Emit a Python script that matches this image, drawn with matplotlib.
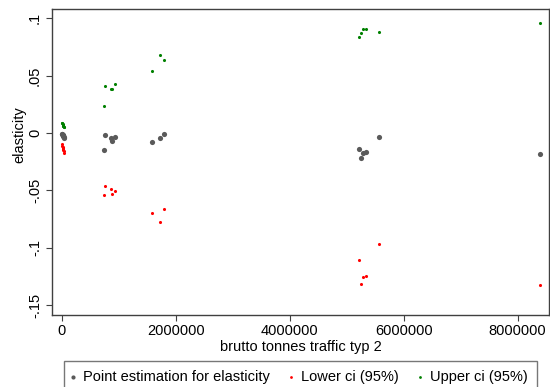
import matplotlib
matplotlib.use("Agg")
import matplotlib.pyplot as plt
import numpy as np

plt.rcParams['font.family'] = ['Liberation Sans', 'DejaVu Sans']

# traffic (brutto tonnes) and elasticity estimates
traffic = [8000, 12000, 15000, 20000, 25000, 30000, 35000, 40000,
           747000, 760000, 860000, 888000, 935000,
           1589000, 1719000, 1795000,
           5211000, 5256000, 5286000, 5344000, 5572000,
           8386000]
point_est = [-0.0005, -0.001, -0.0015, -0.002, -0.0025, -0.003, -0.0035, -0.004,
             -0.0152, -0.0018, -0.0047, -0.0067, -0.0035,
             -0.0079, -0.0041, -0.0006,
             -0.0140, -0.0218, -0.0175, -0.0166, -0.0035,
             -0.0181]
lower_ci = [-0.0095, -0.011, -0.012, -0.013, -0.014, -0.015, -0.016, -0.017,
            -0.0544, -0.0460, -0.0489, -0.0527, -0.0506,
            -0.0695, -0.0771, -0.0658,
            -0.1108, -0.1312, -0.1254, -0.1245, -0.0963,
            -0.1326]
upper_ci = [0.009, 0.0085, 0.008, 0.007, 0.0065, 0.006, 0.0055, 0.005,
            0.0232, 0.0413, 0.0384, 0.0387, 0.0424,
            0.0541, 0.0677, 0.0640,
            0.0832, 0.0873, 0.0904, 0.0904, 0.0881,
            0.0960]

xticks = [0, 2000000, 4000000, 6000000, 8000000]
yticks = [0.1, 0.05, 0, -0.05, -0.1, -0.15]
ytick_labels = ['.1', '.05', '0', '-.05', '-.1', '-.15']

fs = 10.5
edge = '#404040'

fig = plt.figure(figsize=(5.5, 3.87), dpi=100)
ax = fig.add_axes([52/550, 1-315/387, 497/550, 306/387])

ax.scatter(traffic, point_est, s=14, color='#5a5a5a', linewidths=0,
           label='Point estimation for elasticity', zorder=3)
ax.scatter(traffic, lower_ci, s=5, color='red', linewidths=0,
           label='Lower ci (95%)', zorder=3)
ax.scatter(traffic, upper_ci, s=5, color='green', linewidths=0,
           label='Upper ci (95%)', zorder=3)

ax.set_xlim(-170000, 8550000)
ax.set_ylim(-0.1585, 0.108)
ax.set_xticks(xticks)
ax.set_xticklabels([str(t) for t in xticks], fontsize=fs)
ax.set_yticks(yticks)
ax.set_yticklabels(ytick_labels, fontsize=fs, rotation=90, va='center')
ax.tick_params(axis='both', length=4.2, width=0.8, color=edge)
ax.tick_params(axis='x', pad=2.5)
ax.tick_params(axis='y', pad=3)
for sp in ax.spines.values():
    sp.set_color(edge)
    sp.set_linewidth(1.0)

fig.text(300.5/550, 1-347/387, 'brutto tonnes traffic typ 2', fontsize=fs,
         ha='center', va='center')
fig.text(19/550, 1-135/387, 'elasticity', fontsize=fs, rotation=90,
         ha='center', va='center')

leg = fig.legend(loc='upper left', bbox_to_anchor=(64/550, 1-361/387),
                 ncol=3, fontsize=fs, frameon=True, fancybox=False,
                 edgecolor='#555555', borderpad=0.6, handlelength=0,
                 handletextpad=0.72, columnspacing=1.42,
                 borderaxespad=0)
leg.get_frame().set_linewidth(1.0)
for h, s in zip(leg.legend_handles, [9, 4, 4]):
    h.set_sizes([s])

fig.savefig('out.png', dpi=100)
